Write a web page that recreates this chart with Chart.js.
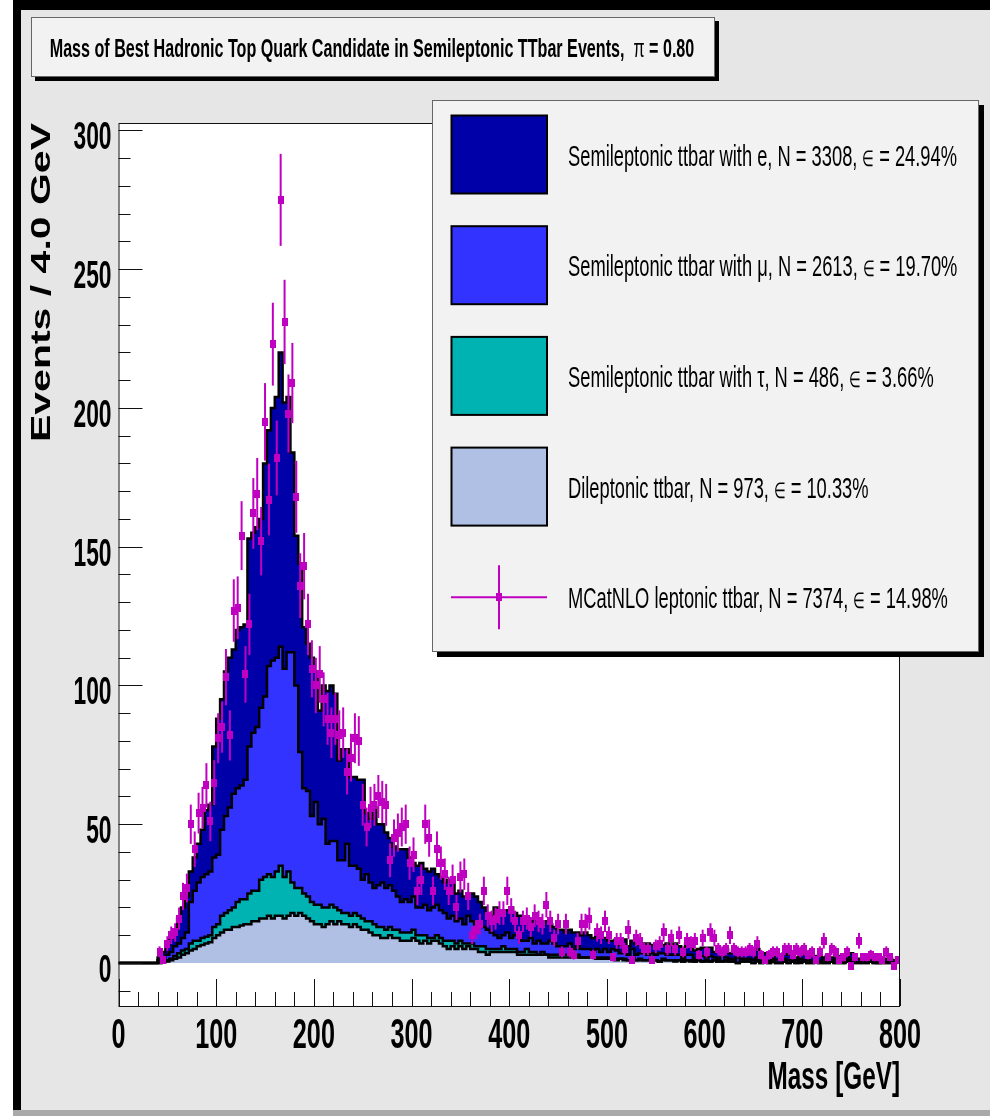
<!DOCTYPE html>
<html>
<head>
<meta charset="utf-8">
<title>Mass of Best Hadronic Top Quark Candidate</title>
<script src="https://cdn.jsdelivr.net/npm/chart.js@4.4.1/dist/chart.umd.min.js"></script>
<style>
  html, body { margin: 0; padding: 0; background: #fff; }
  canvas { display: block; }
</style>
</head>
<body>
<canvas id="c" width="990" height="1116"></canvas>
<script>
// 200 bins of 4 GeV, 0 - 800 GeV
const BIN_WIDTH = 4;
const N_BINS = 200;

const xTickLabels = [0, 100, 200, 300, 400, 500, 600, 700, 800];
const yTickLabels = [0, 50, 100, 150, 200, 250, 300];

// stacked components, bottom to top
const dilepton = [
  0,0,0,0,0,0,0,0,0,0,
  0,0.3,0.5,1,1.5,2,3,3.5,4.5,5,
  6,6.5,7,7.5,9,10,11,12,12,13,
  13,13.5,14,14,15,15,16,16,17,16,
  17,17,16,17,18,17,18,17,16,15,
  14,14,13,14,15,14,15,14,14,13,
  14,13,12,12,11,10,10,9,9,10,
  9,9,8,8,8,9,8,7,8,7,
  8,8,7,6,5,6,5,6,5,6,
  5,5,4,4,3,4,4,4,4,4,
  4,4,3,3,3,3,3,3,3,3,
  2,2,2,2,2,2,2,2,2,2,
  2,2,1.5,1.5,1.5,1.5,1.5,1,1.5,1,
  1,1.5,1,1,1,1,1,1,0.5,1,
  1,1,0.5,1,0.5,1,0.5,0.5,1,0.5,
  0.5,0.5,1,0.5,0.5,0.5,0.5,0.5,0,0.5,
  0.5,0.5,0,0.5,0,0.5,0,0.5,0,0,
  0.5,0,0.5,0,0,0.5,0,0,0.5,0,
  0,0,0.5,0,0,0,0.5,0,0,0,
  0,0,0.5,0,0,0,0,0,0,0.5
];
const semiTau = [
  0,0,0,0,0,0,0,0,0,0,
  0,0.2,0.5,0.5,1,1.5,1.5,1.5,2.5,3,
  2,2.5,2.5,2.5,4,4,6,6,7,7,
  9,9.5,9,11,11,11,14,15,15,15,
  16,18,15,16,11,10,9,8,8,7,
  7,7,7,6,6,6,4,4,4,4,
  4,4,4,3,4,4,3,4,3,3,
  3,3,3,3,3,3,2,3,2,2,
  1,2,2,2,3,2,2,2,2,1,
  2,1,2,2,2,1,1,1,2,1,
  1,1,1,1,2,1,1,0,1,0,
  1,1,1,1,1,1,0,1,0,0,
  0,0,0.5,0.5,0.5,0.5,0.5,0.5,0,0.5,
  0,0.5,0,0.5,0,0,0.5,0,0,0.5,
  0,0,0.5,0,0,0,0.5,0,0,0,
  0.5,0,0,0,0,0.5,0,0,0,0,
  0,0,0,0.5,0,0,0,0,0,0,
  0,0,0,0,0.5,0,0,0,0,0,
  0,0,0,0,0,0,0,0.5,0,0,
  0,0,0,0,0,0,0,0,0,0
];
const semiMu = [
  0,0,0,0,0,0,0,0,0,0,
  1,1.5,2,2.5,3.5,3.5,4.5,6,15,18,
  21,22,22.5,23,25,25,31,35,37,41,
  41,41,43,53,57,59,62,65,75,78,
  77,79,75,79,83,73,49,38,38,31,
  37,29,32,23,23,24,18,19,25,18,
  17,17,14,17,14,13,15,16,15,15,
  14,12,11,12,11,12,10,10,11,10,
  11,11,10,10,8,9,8,8,7,10,
  8,8,9,7,7,6,5,4,4,6,
  4,5,5,4,3,5,3,5,3,4,
  5,4,3,3,3,4,3,3,3,3,
  3,2,3,2,3,2,3,3,2,3,
  2,3,2,2,3,2,2,2,3,2,
  2,2,2,2,1,2,2,1,2,2,
  1,2,1,1,2,1,1,1,2,1,
  1,1,1,1,1,1,0.5,1,1,1,
  1,1,0.5,1,1,0.5,1,0.5,1,0.5,
  1,0.5,0.5,1,0.5,0.5,0.5,1,0.5,0.5,
  0.5,0.5,0.5,0.5,0,0.5,0.5,0.5,0,0.5
];
const semiE = [
  0,0,0,0,0,0,0,0,0,0,
  1,2,3,5,6,9,11,13,11,12,
  14,17,23,24,40,49,47,52,54,52,
  57,57,56,75,72,72,68,84,85,91,
  94,106,96,92,72,54,68,58,53,57,
  47,41,48,55,56,53,36,40,34,32,
  32,32,36,22,23,29,22,21,20,17,
  16,17,19,18,16,12,15,16,13,14,
  14,11,12,11,14,12,10,10,10,7,
  10,10,7,7,6,6,10,10,8,8,
  11,8,8,7,8,6,9,7,7,8,
  6,6,6,6,5,5,6,5,5,6,
  5,5,5,5,4,4,3,4,3,4,
  3,3,4,3,3,4,3,3,4,3,
  4,3,4,3,3,4,3,3,2,3,
  3,3,2,3,2,3,2,3,2,2,
  3,2,2,3,2,2,2,1,2,2,
  2,2,2,1,2,2,1,2,1,2,
  1,2,1,1,2,1,1,2,1,1,
  1,1,1,1,1,1,1,1,1,1
];
// MC@NLO sample, null = empty bin
const mcatnlo = [
  null,null,null,null,null,null,null,null,null,null,
  4,1,7,10,11,16,24,27,50,41,
  54,56,64,51,65,81,85,103,82,127,
  128,154,104,122,162,169,152,195,167,223,
  182,275,231,198,209,168,136,143,122,106,
  100,104,95,88,83,88,82,83,69,74,
  81,80,57,49,56,57,60,58,57,37,
  45,47,49,50,36,39,26,30,50,45,
  26,41,36,32,26,30,20,31,32,24,
  10,12,14,26,17,15,16,18,18,26,
  19,15,10,15,16,13,17,15,14,21,
  15,9,14,4,14,4,3,8,14,14,
  16,3,11,10,15,10,2,8,8,5,
  12,1,9,8,5,5,1,6,7,11,
  5,9,5,10,4,8,7,8,3,9,
  4,11,9,5,4,5,10,5,4,4,
  4,5,4,7,3,1,3,4,4,2,
  5,5,3,5,4,5,3,4,1,4,
  8,2,5,4,1,2,4,-1,2,8,
  2,2,3,2,2,1,4,2,-1,1
];

const legendLabels = ['Semileptonic ttbar with e', 'Semileptonic ttbar with \u03bc', 'Semileptonic ttbar with \u03c4', 'Dileptonic ttbar', 'MCatNLO leptonic ttbar'];
const legendN = [3308, 2613, 486, 973, 7374];
const legendEff = ['24.94', '19.70', '3.66', '10.33', '14.98'];

const COLORS = {
  e: '#0000a8',
  mu: '#3333ff',
  tau: '#00b3b3',
  dilep: '#b0c0e4',
  data: '#c000c0'
};
const FONT = '"Liberation Sans", Arial, Helvetica, sans-serif';

// histogram as a step line: a point at each low edge plus the closing edge
function stepData(values) {
  const pts = values.map((v, i) => ({ x: i * BIN_WIDTH, y: v }));
  pts.push({ x: N_BINS * BIN_WIDTH, y: values[values.length - 1] });
  return pts;
}

const dataPoints = [];
mcatnlo.forEach((v, i) => {
  if (v !== null) dataPoints.push({ x: i * BIN_WIDTH + BIN_WIDTH / 2, y: v });
});

// small upright rectangle used as marker
const marker = document.createElement('canvas');
marker.width = 6;
marker.height = 8;
(function () {
  const m = marker.getContext('2d');
  m.fillStyle = COLORS.data;
  m.fillRect(0, 0, 6, 8);
})();

// text drawn squeezed horizontally, segments may change size / weight
function richText(ctx, segs, x, y, opts) {
  const sx = opts.sx || 1;
  ctx.save();
  ctx.translate(x, y);
  ctx.scale(sx, 1);
  if (opts.rotate) ctx.rotate(opts.rotate);
  ctx.textBaseline = 'alphabetic';
  ctx.fillStyle = opts.color || '#000';
  let total = 0;
  segs.forEach(s => {
    ctx.font = `${s.weight || opts.weight || 'normal'} ${s.size || opts.size}px ${s.family || FONT}`;
    s._w = ctx.measureText(s.t).width;
    total += s._w;
  });
  let cx = 0;
  if (opts.align === 'right') cx = -total;
  else if (opts.align === 'center') cx = -total / 2;
  segs.forEach(s => {
    ctx.font = `${s.weight || opts.weight || 'normal'} ${s.size || opts.size}px ${s.family || FONT}`;
    ctx.textAlign = 'left';
    ctx.fillText(s.t, cx, s.dy || 0);
    cx += s._w;
  });
  ctx.restore();
}

const errorBars = {
  id: 'errorBars',
  beforeDatasetDraw(chart, args) {
    if (args.index !== 0) return;
    const { ctx } = chart;
    const y = chart.scales.y;
    ctx.save();
    ctx.strokeStyle = COLORS.data;
    ctx.lineWidth = 2;
    args.meta.data.forEach((pt, j) => {
      const v = dataPoints[j].y;
      const err = Math.sqrt(Math.abs(v));
      ctx.beginPath();
      ctx.moveTo(pt.x, y.getPixelForValue(v - err));
      ctx.lineTo(pt.x, y.getPixelForValue(v + err));
      ctx.stroke();
    });
    ctx.restore();
  }
};

const rootPad = {
  id: 'rootPad',
  beforeDraw(chart) {
    const { ctx, chartArea: a } = chart;
    ctx.save();
    ctx.fillStyle = '#ffffff';
    ctx.fillRect(0, 0, 990, 1116);
    ctx.fillStyle = '#e6e6e6';
    ctx.fillRect(13, 0, 977, 1110);
    ctx.fillStyle = '#000';
    ctx.fillRect(13, 0, 977, 10);
    ctx.fillRect(13, 0, 8, 1110);
    ctx.fillStyle = '#a9a9a9';
    ctx.fillRect(13, 1110, 977, 6);
    ctx.fillStyle = '#ffffff';
    ctx.fillRect(a.left, a.top, a.right - a.left, a.bottom - a.top);
    ctx.restore();
  },
  afterDatasetsDraw(chart) {
    const { ctx, chartArea: a } = chart;
    const xs = chart.scales.x, ys = chart.scales.y;
    ctx.save();
    // frame
    ctx.strokeStyle = '#111';
    ctx.lineWidth = 1;
    ctx.strokeRect(a.left + 0.5, a.top + 0.5, a.right - a.left - 1, a.bottom - a.top);
    // y ticks, minor every 10
    ctx.beginPath();
    for (let v = -10; v <= 300; v += 10) {
      const py = Math.round(ys.getPixelForValue(v)) + 0.5;
      const len = v % 50 === 0 ? 24 : 12;
      ctx.moveTo(a.left, py);
      ctx.lineTo(a.left + len, py);
    }
    // x ticks, minor every 20
    for (let v = 0; v <= 800; v += 20) {
      const px = Math.round(xs.getPixelForValue(v)) + 0.5;
      const len = v % 100 === 0 ? 27 : 14;
      ctx.moveTo(px, a.bottom);
      ctx.lineTo(px, a.bottom - len);
    }
    ctx.stroke();
    ctx.restore();

    yTickLabels.forEach(v => {
      richText(ctx, [{ t: String(v) }], a.left - 7, ys.getPixelForValue(v) + 19,
        { size: 38, weight: 'bold', sx: 0.6, align: 'right' });
    });
    xTickLabels.forEach(v => {
      richText(ctx, [{ t: String(v) }], xs.getPixelForValue(v), 1048,
        { size: 42, weight: 'bold', sx: 0.6, align: 'center' });
    });
    richText(ctx, [{ t: 'Mass [GeV]' }], a.right, 1089,
      { size: 38, weight: 'bold', sx: 0.64, align: 'right' });
    richText(ctx, [{ t: 'Events / 4.0 GeV' }], 50, a.top,
      { size: 41, weight: 'bold', sx: 0.68, align: 'right', rotate: -Math.PI / 2 });
  },
  afterDraw(chart) {
    const { ctx } = chart;
    ctx.save();
    // title box
    ctx.fillStyle = '#000';
    ctx.fillRect(35, 21, 684, 60);
    ctx.fillStyle = '#f2f2f2';
    ctx.fillRect(31, 17, 684, 60);
    ctx.strokeStyle = '#666';
    ctx.lineWidth = 1;
    ctx.strokeRect(31.5, 17.5, 683, 59);
    ctx.restore();
    richText(ctx, [
      { t: 'Mass of Best Hadronic Top Quark Candidate in Semileptonic TTbar Events,  ' },
      { t: '\u03c0', weight: 'normal' },
      { t: ' = 0.80' }
    ], 372, 57, { size: 26, weight: 'bold', sx: 0.62, align: 'center' });

    // legend box
    const L = { x: 432, y: 100, w: 547, h: 552 };
    ctx.save();
    ctx.fillStyle = '#000';
    ctx.fillRect(L.x + 5, L.y + 5, L.w, L.h);
    ctx.fillStyle = '#f2f2f2';
    ctx.fillRect(L.x, L.y, L.w, L.h);
    ctx.strokeStyle = '#666';
    ctx.strokeRect(L.x + 0.5, L.y + 0.5, L.w - 1, L.h - 1);
    const fills = [COLORS.e, COLORS.mu, COLORS.tau, COLORS.dilep];
    for (let r = 0; r < 5; r++) {
      const cy = 154.5 + r * 110.7;
      if (r < 4) {
        ctx.fillStyle = fills[r];
        ctx.fillRect(451.5, cy - 39, 95.5, 78);
        ctx.strokeStyle = '#000';
        ctx.lineWidth = 2;
        ctx.strokeRect(451.5, cy - 39, 95.5, 78);
      } else {
        ctx.strokeStyle = COLORS.data;
        ctx.lineWidth = 2;
        ctx.beginPath();
        ctx.moveTo(451, cy);
        ctx.lineTo(547, cy);
        ctx.moveTo(499, cy - 32);
        ctx.lineTo(499, cy + 32);
        ctx.stroke();
        ctx.drawImage(marker, 496, cy - 4);
      }
      richText(ctx, [
        { t: `${legendLabels[r]}, N = ${legendN[r]}, ` },
        { t: '\u2208', size: 22 },
        { t: ` = ${legendEff[r]}%` }
      ], 568, cy + 11, { size: 30, sx: 0.61 });
    }
    ctx.restore();
  }
};

function histSet(label, values, color, fill) {
  return {
    label,
    data: stepData(values),
    stack: 'mc',
    stepped: true,
    fill,
    backgroundColor: color,
    borderColor: '#000',
    borderWidth: 2.5,
    pointRadius: 0,
    tension: 0
  };
}

new Chart(document.getElementById('c'), {
  type: 'line',
  data: {
    datasets: [
      {
        type: 'scatter',
        label: 'MCatNLO leptonic ttbar',
        data: dataPoints,
        stack: 'mcatnlo',
        pointStyle: marker,
        pointRadius: 4,
        showLine: false
      },
      histSet('Dileptonic ttbar', dilepton, COLORS.dilep, 'origin'),
      histSet('Semileptonic ttbar with tau', semiTau, COLORS.tau, '-1'),
      histSet('Semileptonic ttbar with mu', semiMu, COLORS.mu, '-1'),
      histSet('Semileptonic ttbar with e', semiE, COLORS.e, '-1')
    ]
  },
  options: {
    responsive: false,
    devicePixelRatio: 1,
    animation: false,
    layout: { padding: { left: 118.5, right: 90, top: 123, bottom: 110 } },
    plugins: {
      legend: { display: false },
      tooltip: { enabled: false },
      filler: { drawTime: 'beforeDatasetsDraw' }
    },
    scales: {
      x: { type: 'linear', min: 0, max: 800, display: false },
      y: { type: 'linear', min: -15.5, max: 302.7, stacked: true, display: false }
    }
  },
  plugins: [rootPad, errorBars]
});
</script>
</body>
</html>
